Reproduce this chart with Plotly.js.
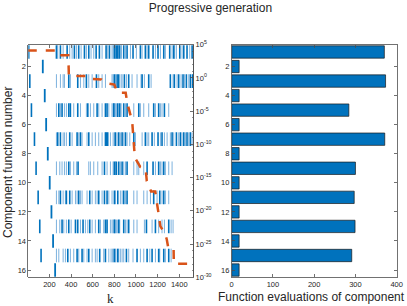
<!DOCTYPE html>
<html>
<head>
<meta charset="utf-8">
<script src="https://cdn.plot.ly/plotly-3.0.1.min.js"></script>
<style>html,body{margin:0;padding:0;background:#fff;}#chart{width:407px;height:306px;}</style>
</head>
<body>
<div id="chart"></div>
<script>
// ---- Data: evaluation iterations k for each odd component (dark = solid, light = faint lines)
const row1Dark  = [9,265,302,364,431,471,524,564,632,662,724,755,801,819,832,850,887,918,973,1041,1087,1118,1158,1204,1257,1312,1349,1405,1442,1472,1519];
const row1Light = [277,327,388,410,450,493,542,585,610,687,739,779,789,810,841,866,903,949,1004,1057,1103,1180,1226,1272,1334,1358,1374,1426,1497];
const row3Dark  = [19,379,462,542,635,801,826,841,893,933,1057,1118,1318,1355,1395,1435,1466,1503,1525];
const row3Light = [265,302,327,339,394,487,518,564,595,656,687,718,779,789,810,863,872,912,964,1010,1047,1078,1140,1343,1380,1417,1448,1488,1519];
const row5Dark  = [34,287,317,379,394,462,555,641,718,733,795,832,850,887,918,1026,1164,1210,1263];
const row5Light = [265,302,339,357,425,487,542,579,610,656,687,749,779,789,801,810,819,863,903,980,1041,1072,1118,1180,1226,1241,1303];
const row7Dark  = [62,277,302,388,456,487,564,718,727,739,810,841,872,903,980,1087,1149,1204,1241,1334,1374,1411,1442,1472,1503];
const row7Light = [265,327,339,357,410,471,502,548,595,625,656,687,764,789,801,826,856,887,918,943,995,1057,1103,1118,1170,1226,1263,1288,1318,1349,1395,1426,1457,1488,1519];
const row9Dark  = [77,379,465,709,801,819,841,872,918,1103,1158,1210,1257];
const row9Light = [265,296,317,339,357,394,425,450,564,579,610,647,687,733,764,789,810,856,887,903,980,1010,1026,1072,1180,1226,1241,1272,1303,1334];
const row11Dark  = [96,302,357,388,471,573,656,709,733,801,832,887,918,1164,1220,1257];
const row11Light = [265,287,327,348,410,441,456,487,502,548,595,625,641,687,749,779,810,856,872,903,980,1010,1072,1103,1134,1195,1241,1272,1303];
const row13Dark  = [111,317,379,441,462,511,573,656,718,733,801,841,887,933,1097,1180,1303];
const row13Light = [265,296,333,357,401,487,533,555,595,625,672,702,764,779,789,801,810,819,832,850,903,918,980,1010,1078,1149,1210,1241,1263,1325,1343];
const row15Dark  = [123,370,456,502,564,665,718,801,832,912,1010,1103,1149,1210,1257,1303];
const row15Light = [265,287,327,348,394,425,471,518,548,595,625,641,702,749,770,782,795,810,826,841,856,872,887,933,973,1041,1072,1128,1180,1220,1272,1325];
// even components: single evaluation each
const evenRows = [2,4,6,8,10,12,14,16];
const evenK    = [139,157,170,185,203,219,234,253];

// ---- Best value progression (right log axis)
const bestK   = [0,265,280,375,380,560,585,680,720,800,830,905,920,965,990,1040,1090,1100,1140,1178,1210,1225,1270,1285,1300,1348,1350,1530];
const bestVal = [1.3e4,1.3e4,2.5e3,2.5e3,2e0,2e0,7e-1,6e-1,1.6e-1,1e-1,6e-3,6e-3,1.6e-4,3e-7,1e-12,4e-14,2.5e-14,3e-16,8e-18,8e-18,3e-21,5e-23,3e-24,5e-25,2e-26,2e-26,1.1e-28,1.1e-28];

// ---- Function evaluations per component (right panel)
const components = [1,2,3,4,5,6,7,8,9,10,11,12,13,14,15,16];
const evaluations = [370,18,373,18,284,18,371,18,300,18,297,18,299,18,291,18];

// ---- Axis ticks
const rowTicks = [2,4,6,8,10,12,14,16];
const kTicks = [200,400,600,800,1000,1200,1400];
const evalTicks = [0,100,200,300,400];
const logTickVals = [1e5,1e0,1e-5,1e-10,1e-15,1e-20,1e-25,1e-30];
const logTickText = ['10<sup>5</sup>','10<sup>0</sup>','10<sup>-5</sup>','10<sup>-10</sup>','10<sup>-15</sup>','10<sup>-20</sup>','10<sup>-25</sup>','10<sup>-30</sup>'];

const oddRows = [1,3,5,7,9,11,13,15];
const darkSets = [row1Dark,row3Dark,row5Dark,row7Dark,row9Dark,row11Dark,row13Dark,row15Dark];
const lightSets = [row1Light,row3Light,row5Light,row7Light,row9Light,row11Light,row13Light,row15Light];

const DARK = '#0072BD', LIGHT = '#7DB2DE', ORANGE = '#D95319', TXT = '#262626', AX = '#4d4d4d';
const H = 0.47;

function segments(rowList, kLists, halfH) {
  const x = [], y = [];
  rowList.forEach((r, i) => {
    kLists[i].forEach(k => { x.push(k, k, null); y.push(r - halfH, r + halfH, null); });
  });
  return {x, y};
}
const lightSeg = segments(oddRows, lightSets, H);
const darkSeg = segments(oddRows, darkSets, H);
const evenSeg = segments(evenRows, evenK.map(k => [k]), 0.46);

const traces = [
  {type:'scatter', mode:'lines', x: lightSeg.x, y: lightSeg.y, xaxis:'x', yaxis:'y',
   line:{color:LIGHT, width:1}, hoverinfo:'skip', showlegend:false},
  {type:'scatter', mode:'lines', x: darkSeg.x, y: darkSeg.y, xaxis:'x', yaxis:'y',
   line:{color:DARK, width:1.6}, hoverinfo:'skip', showlegend:false},
  {type:'scatter', mode:'lines', x: evenSeg.x, y: evenSeg.y, xaxis:'x', yaxis:'y',
   line:{color:DARK, width:1.8}, hoverinfo:'skip', showlegend:false},
  {type:'scatter', mode:'lines', x: bestK, y: bestVal, xaxis:'x', yaxis:'y2',
   line:{color:ORANGE, width:2.5, dash:'dash'}, showlegend:false},
  {type:'bar', orientation:'h', x: evaluations, y: components, xaxis:'x2', yaxis:'y3',
   width:0.85, marker:{color:DARK, line:{color:'#1a1a1a', width:0.7}}, showlegend:false}
];

const W = 407, HH = 306;
const yDom = [(HH-277.3)/HH, (HH-44.7)/HH];
const tickFont = {family:'Liberation Sans, Arial, sans-serif', size:7.5, color:TXT};
const common = {showgrid:false, zeroline:false, showline:true, linecolor:AX, linewidth:0.8,
  ticks:'inside', ticklen:3, tickcolor:AX, tickwidth:0.8, tickfont:tickFont};

const layout = {
  width: W, height: HH,
  margin:{l:0,r:0,t:0,b:0},
  paper_bgcolor:'#fff', plot_bgcolor:'#fff',
  font:{family:'Liberation Sans, Arial, sans-serif', color:TXT},
  title:{text:'Progressive generation', x:0.517, xanchor:'center', y:0.975, yanchor:'middle',
    font:{family:'Liberation Sans, Arial, sans-serif', size:12, color:TXT}},
  xaxis: Object.assign({}, common, {domain:[28.3/W, 193.3/W], range:[5,1530], anchor:'y',
    tickvals:kTicks, mirror:'ticks'}),
  yaxis: Object.assign({}, common, {domain:yDom, range:[16.5,0.5], anchor:'x',
    tickvals:rowTicks, mirror:true}),
  yaxis2: Object.assign({}, common, {overlaying:'y', side:'right', anchor:'x', type:'log',
    range:[-30,5], tickvals:logTickVals, ticktext:logTickText, ticklen:3,
    minor:{tickvals:[1e4,1e3,1e2,1e1,1e-1,1e-2,1e-3,1e-4,1e-6,1e-7,1e-8,1e-9,1e-11,1e-12,1e-13,1e-14,1e-16,1e-17,1e-18,1e-19,1e-21,1e-22,1e-23,1e-24,1e-26,1e-27,1e-28,1e-29],
      ticks:'inside', ticklen:1.5, tickcolor:AX, tickwidth:0.6}}),
  xaxis2: Object.assign({}, common, {domain:[231.7/W, 396.7/W], range:[0,400], anchor:'y3',
    tickvals:evalTicks, mirror:'ticks'}),
  yaxis3: Object.assign({}, common, {domain:yDom, range:[16.5,0.5], anchor:'x2',
    tickvals:rowTicks, mirror:'ticks'}),
  annotations:[
    {text:'Component function number', xref:'paper', yref:'paper', x:8/W, y:1-163/HH,
     textangle:-90, showarrow:false, xanchor:'center', yanchor:'middle',
     font:{family:'Liberation Sans, Arial, sans-serif', size:12, color:TXT}},
    {text:'k', xref:'paper', yref:'paper', x:110/W, y:1-298/HH, showarrow:false,
     xanchor:'center', yanchor:'middle',
     font:{family:'Liberation Serif, DejaVu Serif, serif', size:13, color:TXT}},
    {text:'Function evaluations of component', xref:'paper', yref:'paper', x:311.5/W, y:1-297/HH,
     showarrow:false, xanchor:'center', yanchor:'middle',
     font:{family:'Liberation Sans, Arial, sans-serif', size:12, color:TXT}}
  ]
};

Plotly.newPlot('chart', traces, layout, {staticPlot:true, displayModeBar:false});
</script>
</body>
</html>
